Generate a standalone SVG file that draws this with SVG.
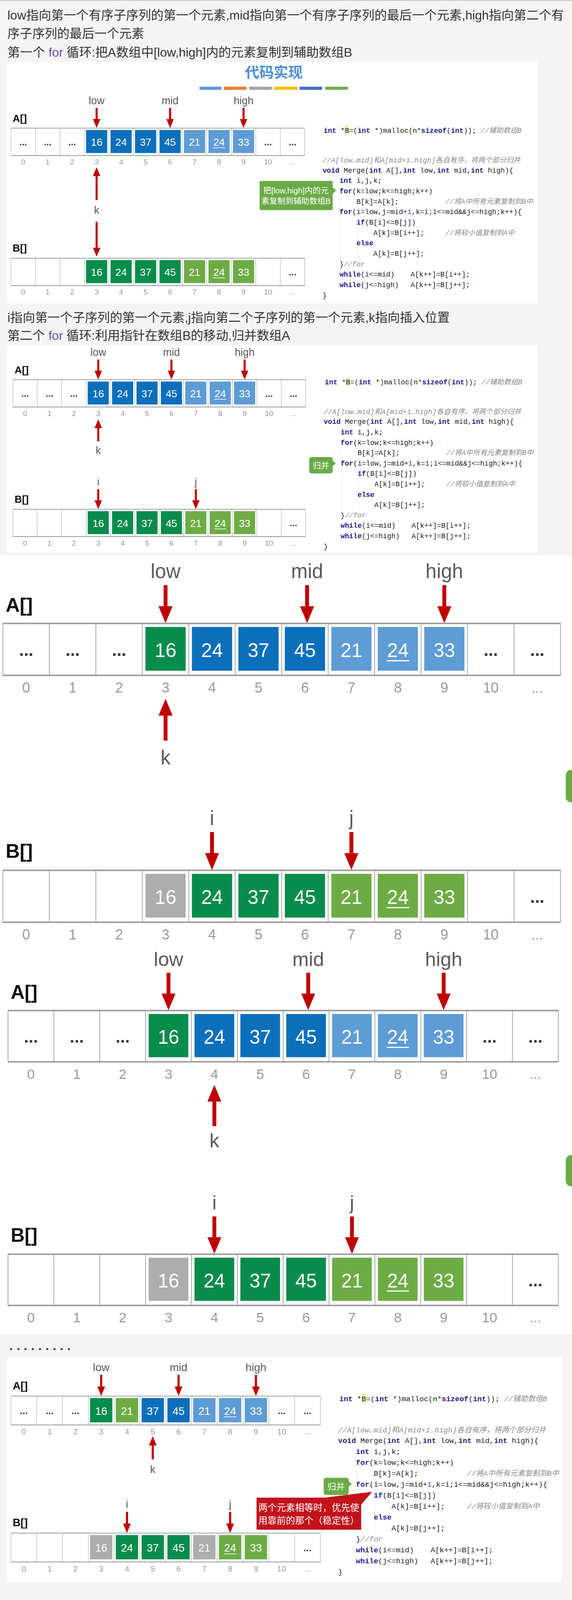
<svg xmlns="http://www.w3.org/2000/svg" xmlns:xlink="http://www.w3.org/1999/xlink" width="1465" height="5367" viewBox="0 0 1465 5367">
<defs>
<style>
.pg{fill:#f4f4f4}
.pn{fill:#ffffff}
.hd{font-family:"Liberation Sans","Noto Sans CJK SC",sans-serif;font-size:32px;fill:#333333}
.pur{fill:#6b4fbb}
.lbl{font-family:"Liberation Sans",Arial,sans-serif;font-size:51px;fill:#5a5a5a;text-anchor:middle}
.num{font-family:"Liberation Sans",Arial,sans-serif;font-size:50px;fill:#ffffff;text-anchor:middle}
.idx{font-family:"Liberation Sans",Arial,sans-serif;font-size:36px;fill:#9a9a9a;text-anchor:middle}
.dot{font-family:"Liberation Sans",Arial,sans-serif;font-size:44px;font-weight:bold;fill:#333333;text-anchor:middle}
.arr{font-family:"Liberation Sans",Arial,sans-serif;font-size:50px;font-weight:bold;fill:#111111}
.bdk{fill:#0b6fbc}.blt{fill:#5e9cd6}.gdk{fill:#088c4c}.glt{fill:#6dac45}.gry{fill:#adadad}
.ul{fill:#ffffff}
.red{fill:#c00000}
.code{font-family:"Liberation Mono","DejaVu Sans Mono","Noto Sans CJK SC",monospace;font-size:19px;fill:#222222}
.kw{fill:#1c1c8a;font-weight:bold}
.cm{fill:#8c8c8c;font-style:italic}
.nm{fill:#1d3fe0}
.gn{fill:#1e7b1e;font-weight:bold}
.guide{stroke:#e4e4e4;stroke-width:1.2;fill:none}
.cg{fill:#6aab46}
.cr{fill:#c3121b}
.ct{font-family:"Liberation Sans","Noto Sans CJK SC",sans-serif;fill:#ffffff;text-anchor:middle}
</style>
<g id="grid">
<rect x="0" y="0" width="1428" height="133" fill="#ffffff" stroke="#8c8c8c" stroke-width="1.5"/>
<path d="M119,0V133M238,0V133M357,0V133M476,0V133M595,0V133M714,0V133M833,0V133M952,0V133M1071,0V133M1190,0V133M1309,0V133" stroke="#8c8c8c" stroke-width="1.5"/>
<path d="M0,0H1428M0,133H1428" stroke="#a0a0a0" stroke-width="4"/>
</g>
<path id="adn" class="red" d="M0,0 L-18,-43 H-5 V-97 H5 V-43 H18 Z"/>
<path id="aup" class="red" d="M0,0 L18,43 H5 V107 H-5 V43 H-18 Z"/>
</defs>

<rect class="pg" x="0" y="0" width="1465" height="5367"/>
<rect x="0" y="0" width="1465" height="2" fill="#c4c4c4"/>

<g id="headings">
<text class="hd" x="19" y="50" textLength="1425" lengthAdjust="spacingAndGlyphs">low指向第一个有序子序列的第一个元素,mid指向第一个有序子序列的最后一个元素,high指向第二个有</text>
<text class="hd" x="19" y="97" textLength="350" lengthAdjust="spacingAndGlyphs">序子序列的最后一个元素</text>
<text class="hd" x="19" y="145" textLength="883" lengthAdjust="spacingAndGlyphs">第一个 <tspan class="pur">for</tspan> 循环:把A数组中[low,high]内的元素复制到辅助数组B</text>
<text class="hd" x="19" y="824" textLength="1133" lengthAdjust="spacingAndGlyphs">i指向第一个子序列的第一个元素,j指向第二个子序列的第一个元素,k指向插入位置</text>
<text class="hd" x="19" y="870" textLength="724" lengthAdjust="spacingAndGlyphs">第二个 <tspan class="pur">for</tspan> 循环:利用指针在数组B的移动,归并数组A</text>
<text class="hd" x="24" y="3456" style="font-weight:bold" textLength="157">.........</text>
<text class="hd" x="24" y="4131" style="font-weight:bold" textLength="157">.........</text>
<text class="hd" x="21" y="4209" style="font-size:52px" textLength="1105" lengthAdjust="spacingAndGlyphs">其中一个子序列走完，将另一个子序列直接复制</text>
</g>

<g id="panels">
<rect class="pn" x="19" y="158" width="1357" height="619"/>
<rect class="pn" x="19" y="884" width="1357" height="530"/>
<rect class="pn" x="0" y="1422" width="1465" height="1994"/>
<rect class="pn" x="19" y="3475" width="1420" height="576"/>
<rect class="pn" x="19" y="4231" width="1420" height="549"/>
<rect class="pn" x="19" y="4798" width="1420" height="565"/>
<rect x="1449" y="1971" width="40" height="83" rx="14" fill="#6aab46"/>
<rect x="1449" y="2957" width="40" height="80" rx="14" fill="#6aab46"/>
</g>

<g id="title">
<text x="701" y="199" text-anchor="middle" style="font-family:'Noto Sans CJK SC',sans-serif;font-size:37px;font-weight:bold;fill:#4a8fd6">代码实现</text>
<rect x="511" y="222" width="56" height="8" fill="#5b9bd5"/>
<rect x="573" y="222" width="58" height="8" fill="#ed7d31"/>
<rect x="638" y="222" width="58" height="8" fill="#a5a5a5"/>
<rect x="702" y="222" width="60" height="8" fill="#ffc000"/>
<rect x="767" y="222" width="58" height="8" fill="#4472c4"/>
<rect x="833" y="222" width="58" height="8" fill="#70ad47"/>
</g>

<!-- SECTION 1 -->
<g id="sec1" transform="translate(28,328) scale(0.527)">
<use href="#grid"/><use href="#grid" y="632"/>
<rect class="bdk" x="365" y="9" width="103" height="112"/><rect class="bdk" x="484" y="9" width="103" height="112"/><rect class="bdk" x="603" y="9" width="103" height="112"/><rect class="bdk" x="722" y="9" width="103" height="112"/><rect class="blt" x="841" y="9" width="103" height="112"/><rect class="blt" x="960" y="9" width="103" height="112"/><rect class="blt" x="1079" y="9" width="103" height="112"/>
<rect class="gdk" x="365" y="641" width="103" height="112"/><rect class="gdk" x="484" y="641" width="103" height="112"/><rect class="gdk" x="603" y="641" width="103" height="112"/><rect class="gdk" x="722" y="641" width="103" height="112"/><rect class="glt" x="841" y="641" width="103" height="112"/><rect class="glt" x="960" y="641" width="103" height="112"/><rect class="glt" x="1079" y="641" width="103" height="112"/>
<text class="num" y="86"><tspan x="416.5">16</tspan><tspan x="535.5">24</tspan><tspan x="654.5">37</tspan><tspan x="773.5">45</tspan><tspan x="892.5">21</tspan><tspan x="1011.5">24</tspan><tspan x="1130.5">33</tspan></text>
<rect class="ul" x="982.5" y="94" width="58" height="3"/>
<text class="num" y="718"><tspan x="416.5">16</tspan><tspan x="535.5">24</tspan><tspan x="654.5">37</tspan><tspan x="773.5">45</tspan><tspan x="892.5">21</tspan><tspan x="1011.5">24</tspan><tspan x="1130.5">33</tspan></text>
<rect class="ul" x="982.5" y="726" width="58" height="3"/>
<text class="dot" y="83"><tspan x="59.5">...</tspan><tspan x="178.5">...</tspan><tspan x="297.5">...</tspan><tspan x="1249.5">...</tspan><tspan x="1368.5">...</tspan></text>
<text class="dot" y="715"><tspan x="1368.5">...</tspan></text>
<text class="idx" y="177"><tspan x="59.5">0</tspan><tspan x="178.5">1</tspan><tspan x="297.5">2</tspan><tspan x="416.5">3</tspan><tspan x="535.5">4</tspan><tspan x="654.5">5</tspan><tspan x="773.5">6</tspan><tspan x="892.5">7</tspan><tspan x="1011.5">8</tspan><tspan x="1130.5">9</tspan><tspan x="1249.5">10</tspan><tspan x="1368.5">...</tspan></text>
<text class="idx" y="809"><tspan x="59.5">0</tspan><tspan x="178.5">1</tspan><tspan x="297.5">2</tspan><tspan x="416.5">3</tspan><tspan x="535.5">4</tspan><tspan x="654.5">5</tspan><tspan x="773.5">6</tspan><tspan x="892.5">7</tspan><tspan x="1011.5">8</tspan><tspan x="1130.5">9</tspan><tspan x="1249.5">10</tspan><tspan x="1368.5">...</tspan></text>
<text class="arr" x="8" y="-30">A[]</text>
<text class="arr" x="8" y="600">B[]</text>
<text class="lbl" y="-116"><tspan x="416.5">low</tspan><tspan x="773.5">mid</tspan><tspan x="1130.5">high</tspan></text>
<text class="lbl" x="416.5" y="415">k</text>
<g id="sec1-arrows">
<use href="#adn" x="416.5" y="-1"/><use href="#adn" x="773.5" y="-1"/><use href="#adn" x="1130.5" y="-1"/>
<path class="red" transform="translate(416.5,190)" d="M0,0 L18,43 H5 V159 H-5 V43 H-18 Z"/>
<path class="red" transform="translate(416.5,624)" d="M0,0 L-18,-43 H-5 V-169 H5 V-43 H18 Z"/>
</g>
</g>

<!-- SECTION 2 -->
<g id="sec2" transform="translate(33,972) scale(0.525)">
<use href="#grid"/><use href="#grid" y="632"/>
<rect class="bdk" x="365" y="9" width="103" height="112"/><rect class="bdk" x="484" y="9" width="103" height="112"/><rect class="bdk" x="603" y="9" width="103" height="112"/><rect class="bdk" x="722" y="9" width="103" height="112"/><rect class="blt" x="841" y="9" width="103" height="112"/><rect class="blt" x="960" y="9" width="103" height="112"/><rect class="blt" x="1079" y="9" width="103" height="112"/>
<rect class="gdk" x="365" y="641" width="103" height="112"/><rect class="gdk" x="484" y="641" width="103" height="112"/><rect class="gdk" x="603" y="641" width="103" height="112"/><rect class="gdk" x="722" y="641" width="103" height="112"/><rect class="glt" x="841" y="641" width="103" height="112"/><rect class="glt" x="960" y="641" width="103" height="112"/><rect class="glt" x="1079" y="641" width="103" height="112"/>
<text class="num" y="86"><tspan x="416.5">16</tspan><tspan x="535.5">24</tspan><tspan x="654.5">37</tspan><tspan x="773.5">45</tspan><tspan x="892.5">21</tspan><tspan x="1011.5">24</tspan><tspan x="1130.5">33</tspan></text>
<rect class="ul" x="982.5" y="94" width="58" height="3"/>
<text class="num" y="718"><tspan x="416.5">16</tspan><tspan x="535.5">24</tspan><tspan x="654.5">37</tspan><tspan x="773.5">45</tspan><tspan x="892.5">21</tspan><tspan x="1011.5">24</tspan><tspan x="1130.5">33</tspan></text>
<rect class="ul" x="982.5" y="726" width="58" height="3"/>
<text class="dot" y="83"><tspan x="59.5">...</tspan><tspan x="178.5">...</tspan><tspan x="297.5">...</tspan><tspan x="1249.5">...</tspan><tspan x="1368.5">...</tspan></text>
<text class="dot" y="715"><tspan x="1368.5">...</tspan></text>
<text class="idx" y="177"><tspan x="59.5">0</tspan><tspan x="178.5">1</tspan><tspan x="297.5">2</tspan><tspan x="416.5">3</tspan><tspan x="535.5">4</tspan><tspan x="654.5">5</tspan><tspan x="773.5">6</tspan><tspan x="892.5">7</tspan><tspan x="1011.5">8</tspan><tspan x="1130.5">9</tspan><tspan x="1249.5">10</tspan><tspan x="1368.5">...</tspan></text>
<text class="idx" y="809"><tspan x="59.5">0</tspan><tspan x="178.5">1</tspan><tspan x="297.5">2</tspan><tspan x="416.5">3</tspan><tspan x="535.5">4</tspan><tspan x="654.5">5</tspan><tspan x="773.5">6</tspan><tspan x="892.5">7</tspan><tspan x="1011.5">8</tspan><tspan x="1130.5">9</tspan><tspan x="1249.5">10</tspan><tspan x="1368.5">...</tspan></text>
<text class="arr" x="8" y="-30">A[]</text>
<text class="arr" x="8" y="600">B[]</text>
<text class="lbl" y="-116"><tspan x="416.5">low</tspan><tspan x="773.5">mid</tspan><tspan x="1130.5">high</tspan></text>
<text class="lbl" x="416.5" y="361">k</text>
<text class="lbl" y="516"><tspan x="416.5">i</tspan><tspan x="892.5">j</tspan></text>
<g id="sec2-arrows">
<use href="#adn" x="416.5" y="-1"/><use href="#adn" x="773.5" y="-1"/><use href="#adn" x="1130.5" y="-1"/>
<use href="#aup" x="416.5" y="193"/>
<use href="#adn" x="416.5" y="631"/><use href="#adn" x="892.5" y="631"/>
</g>
</g>

<!-- SECTION 3 big -->
<g id="sec3" transform="translate(7.5,1596)">
<use href="#grid"/><use href="#grid" y="632"/>
<rect class="gdk" x="365" y="9" width="103" height="112"/><rect class="bdk" x="484" y="9" width="103" height="112"/><rect class="bdk" x="603" y="9" width="103" height="112"/><rect class="bdk" x="722" y="9" width="103" height="112"/><rect class="blt" x="841" y="9" width="103" height="112"/><rect class="blt" x="960" y="9" width="103" height="112"/><rect class="blt" x="1079" y="9" width="103" height="112"/>
<rect class="gry" x="365" y="641" width="103" height="112"/><rect class="gdk" x="484" y="641" width="103" height="112"/><rect class="gdk" x="603" y="641" width="103" height="112"/><rect class="gdk" x="722" y="641" width="103" height="112"/><rect class="glt" x="841" y="641" width="103" height="112"/><rect class="glt" x="960" y="641" width="103" height="112"/><rect class="glt" x="1079" y="641" width="103" height="112"/>
<text class="num" y="86"><tspan x="416.5">16</tspan><tspan x="535.5">24</tspan><tspan x="654.5">37</tspan><tspan x="773.5">45</tspan><tspan x="892.5">21</tspan><tspan x="1011.5">24</tspan><tspan x="1130.5">33</tspan></text>
<rect class="ul" x="982.5" y="94" width="58" height="3"/>
<text class="num" y="718"><tspan x="416.5">16</tspan><tspan x="535.5">24</tspan><tspan x="654.5">37</tspan><tspan x="773.5">45</tspan><tspan x="892.5">21</tspan><tspan x="1011.5">24</tspan><tspan x="1130.5">33</tspan></text>
<rect class="ul" x="982.5" y="726" width="58" height="3"/>
<text class="dot" y="83"><tspan x="59.5">...</tspan><tspan x="178.5">...</tspan><tspan x="297.5">...</tspan><tspan x="1249.5">...</tspan><tspan x="1368.5">...</tspan></text>
<text class="dot" y="715"><tspan x="1368.5">...</tspan></text>
<text class="idx" y="177"><tspan x="59.5">0</tspan><tspan x="178.5">1</tspan><tspan x="297.5">2</tspan><tspan x="416.5">3</tspan><tspan x="535.5">4</tspan><tspan x="654.5">5</tspan><tspan x="773.5">6</tspan><tspan x="892.5">7</tspan><tspan x="1011.5">8</tspan><tspan x="1130.5">9</tspan><tspan x="1249.5">10</tspan><tspan x="1368.5">...</tspan></text>
<text class="idx" y="809"><tspan x="59.5">0</tspan><tspan x="178.5">1</tspan><tspan x="297.5">2</tspan><tspan x="416.5">3</tspan><tspan x="535.5">4</tspan><tspan x="654.5">5</tspan><tspan x="773.5">6</tspan><tspan x="892.5">7</tspan><tspan x="1011.5">8</tspan><tspan x="1130.5">9</tspan><tspan x="1249.5">10</tspan><tspan x="1368.5">...</tspan></text>
<text class="arr" x="7" y="-30">A[]</text>
<text class="arr" x="7" y="600">B[]</text>
<text class="lbl" y="-116"><tspan x="416.5">low</tspan><tspan x="779">mid</tspan><tspan x="1130.5">high</tspan></text>
<text class="lbl" x="416.5" y="361">k</text>
<text class="lbl" y="516"><tspan x="535.5">i</tspan><tspan x="892.5">j</tspan></text>
<g id="sec3-arrows">
<use href="#adn" x="416.5" y="-1"/><use href="#adn" x="779" y="-1"/><use href="#adn" x="1130.5" y="-1"/>
<use href="#aup" x="416.5" y="193"/>
<use href="#adn" x="535.5" y="631"/><use href="#adn" x="892.5" y="631"/>
</g>
</g>

<!-- SECTION 4 big -->
<g id="sec4" transform="translate(20.5,2587) scale(0.987)">
<use href="#grid"/><use href="#grid" y="632"/>
<rect class="gdk" x="365" y="9" width="103" height="112"/><rect class="bdk" x="484" y="9" width="103" height="112"/><rect class="bdk" x="603" y="9" width="103" height="112"/><rect class="bdk" x="722" y="9" width="103" height="112"/><rect class="blt" x="841" y="9" width="103" height="112"/><rect class="blt" x="960" y="9" width="103" height="112"/><rect class="blt" x="1079" y="9" width="103" height="112"/>
<rect class="gry" x="365" y="641" width="103" height="112"/><rect class="gdk" x="484" y="641" width="103" height="112"/><rect class="gdk" x="603" y="641" width="103" height="112"/><rect class="gdk" x="722" y="641" width="103" height="112"/><rect class="glt" x="841" y="641" width="103" height="112"/><rect class="glt" x="960" y="641" width="103" height="112"/><rect class="glt" x="1079" y="641" width="103" height="112"/>
<text class="num" y="86"><tspan x="416.5">16</tspan><tspan x="535.5">24</tspan><tspan x="654.5">37</tspan><tspan x="773.5">45</tspan><tspan x="892.5">21</tspan><tspan x="1011.5">24</tspan><tspan x="1130.5">33</tspan></text>
<rect class="ul" x="982.5" y="94" width="58" height="3"/>
<text class="num" y="718"><tspan x="416.5">16</tspan><tspan x="535.5">24</tspan><tspan x="654.5">37</tspan><tspan x="773.5">45</tspan><tspan x="892.5">21</tspan><tspan x="1011.5">24</tspan><tspan x="1130.5">33</tspan></text>
<rect class="ul" x="982.5" y="726" width="58" height="3"/>
<text class="dot" y="83"><tspan x="59.5">...</tspan><tspan x="178.5">...</tspan><tspan x="297.5">...</tspan><tspan x="1249.5">...</tspan><tspan x="1368.5">...</tspan></text>
<text class="dot" y="715"><tspan x="1368.5">...</tspan></text>
<text class="idx" y="177"><tspan x="59.5">0</tspan><tspan x="178.5">1</tspan><tspan x="297.5">2</tspan><tspan x="416.5">3</tspan><tspan x="535.5">4</tspan><tspan x="654.5">5</tspan><tspan x="773.5">6</tspan><tspan x="892.5">7</tspan><tspan x="1011.5">8</tspan><tspan x="1130.5">9</tspan><tspan x="1249.5">10</tspan><tspan x="1368.5">...</tspan></text>
<text class="idx" y="809"><tspan x="59.5">0</tspan><tspan x="178.5">1</tspan><tspan x="297.5">2</tspan><tspan x="416.5">3</tspan><tspan x="535.5">4</tspan><tspan x="654.5">5</tspan><tspan x="773.5">6</tspan><tspan x="892.5">7</tspan><tspan x="1011.5">8</tspan><tspan x="1130.5">9</tspan><tspan x="1249.5">10</tspan><tspan x="1368.5">...</tspan></text>
<text class="arr" x="7" y="-30">A[]</text>
<text class="arr" x="7" y="600">B[]</text>
<text class="lbl" y="-116"><tspan x="416.5">low</tspan><tspan x="779">mid</tspan><tspan x="1130.5">high</tspan></text>
<text class="lbl" x="535.5" y="355">k</text>
<text class="lbl" y="516"><tspan x="535.5">i</tspan><tspan x="892.5">j</tspan></text>
<g id="sec4-arrows">
<use href="#adn" x="416.5" y="-1"/><use href="#adn" x="779" y="-1"/><use href="#adn" x="1130.5" y="-1"/>
<use href="#aup" x="535.5" y="193"/>
<use href="#adn" x="535.5" y="631"/><use href="#adn" x="892.5" y="631"/>
</g>
</g>

<!-- SECTION 5 (panel 3) -->
<g id="sec5" transform="translate(28,3574) scale(0.555)">
<use href="#grid"/><use href="#grid" y="632"/>
<rect class="gdk" x="365" y="9" width="103" height="112"/><rect class="glt" x="484" y="9" width="103" height="112"/><rect class="bdk" x="603" y="9" width="103" height="112"/><rect class="bdk" x="722" y="9" width="103" height="112"/><rect class="blt" x="841" y="9" width="103" height="112"/><rect class="blt" x="960" y="9" width="103" height="112"/><rect class="blt" x="1079" y="9" width="103" height="112"/>
<rect class="gry" x="365" y="641" width="103" height="112"/><rect class="gdk" x="484" y="641" width="103" height="112"/><rect class="gdk" x="603" y="641" width="103" height="112"/><rect class="gdk" x="722" y="641" width="103" height="112"/><rect class="gry" x="841" y="641" width="103" height="112"/><rect class="glt" x="960" y="641" width="103" height="112"/><rect class="glt" x="1079" y="641" width="103" height="112"/>
<text class="num" y="86"><tspan x="416.5">16</tspan><tspan x="535.5">21</tspan><tspan x="654.5">37</tspan><tspan x="773.5">45</tspan><tspan x="892.5">21</tspan><tspan x="1011.5">24</tspan><tspan x="1130.5">33</tspan></text>
<rect class="ul" x="982.5" y="94" width="58" height="3"/>
<text class="num" y="718"><tspan x="416.5">16</tspan><tspan x="535.5">24</tspan><tspan x="654.5">37</tspan><tspan x="773.5">45</tspan><tspan x="892.5">21</tspan><tspan x="1011.5">24</tspan><tspan x="1130.5">33</tspan></text>
<rect class="ul" x="982.5" y="726" width="58" height="3"/>
<text class="dot" y="83"><tspan x="59.5">...</tspan><tspan x="178.5">...</tspan><tspan x="297.5">...</tspan><tspan x="1249.5">...</tspan><tspan x="1368.5">...</tspan></text>
<text class="dot" y="715"><tspan x="1368.5">...</tspan></text>
<text class="idx" y="177"><tspan x="59.5">0</tspan><tspan x="178.5">1</tspan><tspan x="297.5">2</tspan><tspan x="416.5">3</tspan><tspan x="535.5">4</tspan><tspan x="654.5">5</tspan><tspan x="773.5">6</tspan><tspan x="892.5">7</tspan><tspan x="1011.5">8</tspan><tspan x="1130.5">9</tspan><tspan x="1249.5">10</tspan><tspan x="1368.5">...</tspan></text>
<text class="idx" y="809"><tspan x="59.5">0</tspan><tspan x="178.5">1</tspan><tspan x="297.5">2</tspan><tspan x="416.5">3</tspan><tspan x="535.5">4</tspan><tspan x="654.5">5</tspan><tspan x="773.5">6</tspan><tspan x="892.5">7</tspan><tspan x="1011.5">8</tspan><tspan x="1130.5">9</tspan><tspan x="1249.5">10</tspan><tspan x="1368.5">...</tspan></text>
<text class="arr" x="8" y="-30">A[]</text>
<text class="arr" x="8" y="600">B[]</text>
<text class="lbl" y="-116"><tspan x="416.5">low</tspan><tspan x="773.5">mid</tspan><tspan x="1130.5">high</tspan></text>
<text class="lbl" x="654.5" y="355">k</text>
<text class="lbl" y="516"><tspan x="535.5">i</tspan><tspan x="1011.5">j</tspan></text>
<g id="sec5-arrows">
<use href="#adn" x="416.5" y="-1"/><use href="#adn" x="773.5" y="-1"/><use href="#adn" x="1130.5" y="-1"/>
<use href="#aup" x="654.5" y="185"/>
<use href="#adn" x="535.5" y="631"/><use href="#adn" x="1011.5" y="631"/>
</g>
</g>

<!-- SECTION 6 (panel 4) -->
<g id="sec6" transform="translate(35,4324) scale(0.545)">
<use href="#grid"/><use href="#grid" y="632"/>
<rect class="gdk" x="365" y="9" width="103" height="112"/><rect class="glt" x="484" y="9" width="103" height="112"/><rect class="gdk" x="603" y="9" width="103" height="112"/><rect class="glt" x="722" y="9" width="103" height="112"/><rect class="glt" x="841" y="9" width="103" height="112"/><rect class="blt" x="960" y="9" width="103" height="112"/><rect class="blt" x="1079" y="9" width="103" height="112"/>
<rect class="gry" x="365" y="641" width="103" height="112"/><rect class="gry" x="484" y="641" width="103" height="112"/><rect class="gdk" x="603" y="641" width="103" height="112"/><rect class="gdk" x="722" y="641" width="103" height="112"/><rect class="gry" x="841" y="641" width="103" height="112"/><rect class="gry" x="960" y="641" width="103" height="112"/><rect class="gry" x="1079" y="641" width="103" height="112"/>
<text class="num" y="86"><tspan x="416.5">16</tspan><tspan x="535.5">21</tspan><tspan x="654.5">24</tspan><tspan x="773.5">24</tspan><tspan x="892.5">33</tspan><tspan x="1011.5">24</tspan><tspan x="1130.5">33</tspan></text>
<rect class="ul" x="744.5" y="94" width="58" height="3"/>
<rect class="ul" x="982.5" y="94" width="58" height="3"/>
<text class="num" y="718"><tspan x="416.5">16</tspan><tspan x="535.5">24</tspan><tspan x="654.5">37</tspan><tspan x="773.5">45</tspan><tspan x="892.5">21</tspan><tspan x="1011.5">24</tspan><tspan x="1130.5">33</tspan></text>
<text class="dot" y="83"><tspan x="59.5">...</tspan><tspan x="178.5">...</tspan><tspan x="297.5">...</tspan><tspan x="1249.5">...</tspan><tspan x="1368.5">...</tspan></text>
<text class="dot" y="715"><tspan x="1368.5">...</tspan></text>
<text class="idx" y="177"><tspan x="59.5">0</tspan><tspan x="178.5">1</tspan><tspan x="297.5">2</tspan><tspan x="416.5">3</tspan><tspan x="535.5">4</tspan><tspan x="654.5">5</tspan><tspan x="773.5">6</tspan><tspan x="892.5">7</tspan><tspan x="1011.5">8</tspan><tspan x="1130.5">9</tspan><tspan x="1249.5">10</tspan><tspan x="1368.5">...</tspan></text>
<text class="idx" y="809"><tspan x="59.5">0</tspan><tspan x="178.5">1</tspan><tspan x="297.5">2</tspan><tspan x="416.5">3</tspan><tspan x="535.5">4</tspan><tspan x="654.5">5</tspan><tspan x="773.5">6</tspan><tspan x="892.5">7</tspan><tspan x="1011.5">8</tspan><tspan x="1130.5">9</tspan><tspan x="1249.5">10</tspan><tspan x="1368.5">...</tspan></text>
<text class="arr" x="8" y="-30">A[]</text>
<text class="arr" x="8" y="600">B[]</text>
<text class="lbl" y="-116"><tspan x="416.5">low</tspan><tspan x="773.5">mid</tspan><tspan x="1130.5">high</tspan></text>
<text class="lbl" x="1011.5" y="345">k</text>
<text class="lbl" y="516"><tspan x="654.5">i</tspan><tspan x="1249.5">j</tspan></text>
<g id="sec6-arrows">
<use href="#adn" x="416.5" y="-1"/><use href="#adn" x="773.5" y="-1"/><use href="#adn" x="1130.5" y="-1"/>
<use href="#aup" x="1011.5" y="180"/>
<use href="#adn" x="654.5" y="631"/><use href="#adn" x="1249.5" y="631"/>
</g>
</g>

<!-- SECTION 7 (panel 5) -->
<g id="sec7" transform="translate(28,4893) scale(0.554)">
<use href="#grid"/><use href="#grid" y="632"/>
<rect class="gdk" x="365" y="9" width="103" height="112"/><rect class="glt" x="484" y="9" width="103" height="112"/><rect class="gdk" x="603" y="9" width="103" height="112"/><rect class="glt" x="722" y="9" width="103" height="112"/><rect class="glt" x="841" y="9" width="103" height="112"/><rect class="gdk" x="960" y="9" width="103" height="112"/><rect class="gdk" x="1079" y="9" width="103" height="112"/>
<rect class="gry" x="365" y="641" width="103" height="112"/><rect class="gry" x="484" y="641" width="103" height="112"/><rect class="gry" x="603" y="641" width="103" height="112"/><rect class="gry" x="722" y="641" width="103" height="112"/><rect class="gry" x="841" y="641" width="103" height="112"/><rect class="gry" x="960" y="641" width="103" height="112"/><rect class="gry" x="1079" y="641" width="103" height="112"/>
<text class="num" y="86"><tspan x="416.5">16</tspan><tspan x="535.5">21</tspan><tspan x="654.5">24</tspan><tspan x="773.5">24</tspan><tspan x="892.5">33</tspan><tspan x="1011.5">37</tspan><tspan x="1130.5">45</tspan></text>
<rect class="ul" x="744.5" y="94" width="58" height="3"/>
<text class="num" y="718"><tspan x="416.5">16</tspan><tspan x="535.5">24</tspan><tspan x="654.5">37</tspan><tspan x="773.5">45</tspan><tspan x="892.5">21</tspan><tspan x="1011.5">24</tspan><tspan x="1130.5">33</tspan></text>
<text class="dot" y="83"><tspan x="59.5">...</tspan><tspan x="178.5">...</tspan><tspan x="297.5">...</tspan><tspan x="1249.5">...</tspan><tspan x="1368.5">...</tspan></text>
<text class="dot" y="715"><tspan x="1368.5">...</tspan></text>
<text class="idx" y="177"><tspan x="59.5">0</tspan><tspan x="178.5">1</tspan><tspan x="297.5">2</tspan><tspan x="416.5">3</tspan><tspan x="535.5">4</tspan><tspan x="654.5">5</tspan><tspan x="773.5">6</tspan><tspan x="892.5">7</tspan><tspan x="1011.5">8</tspan><tspan x="1130.5">9</tspan><tspan x="1249.5">10</tspan><tspan x="1368.5">...</tspan></text>
<text class="idx" y="809"><tspan x="59.5">0</tspan><tspan x="178.5">1</tspan><tspan x="297.5">2</tspan><tspan x="416.5">3</tspan><tspan x="535.5">4</tspan><tspan x="654.5">5</tspan><tspan x="773.5">6</tspan><tspan x="892.5">7</tspan><tspan x="1011.5">8</tspan><tspan x="1130.5">9</tspan><tspan x="1249.5">10</tspan><tspan x="1368.5">...</tspan></text>
<text class="arr" x="8" y="-30">A[]</text>
<text class="arr" x="8" y="600">B[]</text>
<text class="lbl" y="-116"><tspan x="416.5">low</tspan><tspan x="773.5">mid</tspan><tspan x="1130.5">high</tspan></text>
<text class="lbl" x="1249.5" y="342">k</text>
<text class="lbl" y="516"><tspan x="892.5">i</tspan><tspan x="1249.5">j</tspan></text>
<g id="sec7-arrows">
<use href="#adn" x="416.5" y="-1"/><use href="#adn" x="773.5" y="-1"/><use href="#adn" x="1130.5" y="-1"/>
<use href="#aup" x="1249.5" y="180"/>
<use href="#adn" x="892.5" y="631"/><use href="#adn" x="1249.5" y="631"/>
</g>
</g>

<!-- CODE BLOCKS -->
<g id="code1" transform="translate(826,333) scale(0.953)">
<rect x="60" y="-12" width="12" height="24" fill="#fbe9a8"/>
<path class="guide" d="M48,185V352M94,252V345"/>
<text class="code" x="3" y="7"><tspan class="kw">int</tspan> *B=(<tspan class="kw">int</tspan> *)malloc(<tspan class="gn">n</tspan>*<tspan class="kw">sizeof</tspan>(<tspan class="kw">int</tspan>)); <tspan class="cm">//辅助数组B</tspan></text>
<text class="code cm" x="0" y="87">//A[low…mid]和A[mid+1…high]各自有序，将两个部分归并</text>
<text class="code" x="0" y="114"><tspan class="kw">void</tspan> Merge(<tspan class="kw">int</tspan> A[],<tspan class="kw">int</tspan> low,<tspan class="kw">int</tspan> mid,<tspan class="kw">int</tspan> high){</text>
<text class="code" x="45.6" y="142"><tspan class="kw">int</tspan> i,j,k;</text>
<text class="code" x="45.6" y="170"><tspan class="kw">for</tspan>(k=low;k&lt;=high;k++)</text>
<text class="code" x="91.2" y="198">B[k]=A[k];<tspan class="cm" x="330">//将A中所有元素复制到B中</tspan></text>
<text class="code" x="45.6" y="226"><tspan class="kw">for</tspan>(i=low,j=mid+<tspan class="nm">1</tspan>,k=i;i&lt;=mid&amp;&amp;j&lt;=high;k++){</text>
<text class="code" x="91.2" y="254"><tspan class="kw">if</tspan>(B[i]&lt;=B[j])</text>
<text class="code" x="136.8" y="282">A[k]=B[i++];<tspan class="cm" x="330">//将较小值复制到A中</tspan></text>
<text class="code" x="91.2" y="310"><tspan class="kw">else</tspan></text>
<text class="code" x="136.8" y="338">A[k]=B[j++];</text>
<text class="code" x="45.6" y="366">}<tspan class="cm">//for</tspan></text>
<text class="code" x="45.6" y="394"><tspan class="kw">while</tspan>(i&lt;=mid)<tspan x="237">A[k++]=B[i++];</tspan></text>
<text class="code" x="45.6" y="422"><tspan class="kw">while</tspan>(j&lt;=high)<tspan x="237">A[k++]=B[j++];</tspan></text>
<text class="code" x="0" y="450">}</text>
</g>

<g id="code2" transform="translate(829,977) scale(0.95)">
<rect x="60" y="-12" width="12" height="24" fill="#fbe9a8"/>
<path class="guide" d="M48,185V352M94,252V345"/>
<text class="code" x="3" y="7"><tspan class="kw">int</tspan> *B=(<tspan class="kw">int</tspan> *)malloc(<tspan class="gn">n</tspan>*<tspan class="kw">sizeof</tspan>(<tspan class="kw">int</tspan>)); <tspan class="cm">//辅助数组B</tspan></text>
<text class="code cm" x="0" y="87">//A[low…mid]和A[mid+1…high]各自有序，将两个部分归并</text>
<text class="code" x="0" y="114"><tspan class="kw">void</tspan> Merge(<tspan class="kw">int</tspan> A[],<tspan class="kw">int</tspan> low,<tspan class="kw">int</tspan> mid,<tspan class="kw">int</tspan> high){</text>
<text class="code" x="45.6" y="142"><tspan class="kw">int</tspan> i,j,k;</text>
<text class="code" x="45.6" y="170"><tspan class="kw">for</tspan>(k=low;k&lt;=high;k++)</text>
<text class="code" x="91.2" y="198">B[k]=A[k];<tspan class="cm" x="330">//将A中所有元素复制到B中</tspan></text>
<text class="code" x="45.6" y="226"><tspan class="kw">for</tspan>(i=low,j=mid+<tspan class="nm">1</tspan>,k=i;i&lt;=mid&amp;&amp;j&lt;=high;k++){</text>
<text class="code" x="91.2" y="254"><tspan class="kw">if</tspan>(B[i]&lt;=B[j])</text>
<text class="code" x="136.8" y="282">A[k]=B[i++];<tspan class="cm" x="330">//将较小值复制到A中</tspan></text>
<text class="code" x="91.2" y="310"><tspan class="kw">else</tspan></text>
<text class="code" x="136.8" y="338">A[k]=B[j++];</text>
<text class="code" x="45.6" y="366">}<tspan class="cm">//for</tspan></text>
<text class="code" x="45.6" y="394"><tspan class="kw">while</tspan>(i&lt;=mid)<tspan x="237">A[k++]=B[i++];</tspan></text>
<text class="code" x="45.6" y="422"><tspan class="kw">while</tspan>(j&lt;=high)<tspan x="237">A[k++]=B[j++];</tspan></text>
<text class="code" x="0" y="450">}</text>
</g>

<g id="code3" transform="translate(866,3580)">
<rect x="60" y="-12" width="12" height="24" fill="#fbe9a8"/>
<path class="guide" d="M48,185V352M94,252V345"/>
<text class="code" x="3" y="7"><tspan class="kw">int</tspan> *B=(<tspan class="kw">int</tspan> *)malloc(<tspan class="gn">n</tspan>*<tspan class="kw">sizeof</tspan>(<tspan class="kw">int</tspan>)); <tspan class="cm">//辅助数组B</tspan></text>
<text class="code cm" x="0" y="87">//A[low…mid]和A[mid+1…high]各自有序，将两个部分归并</text>
<text class="code" x="0" y="114"><tspan class="kw">void</tspan> Merge(<tspan class="kw">int</tspan> A[],<tspan class="kw">int</tspan> low,<tspan class="kw">int</tspan> mid,<tspan class="kw">int</tspan> high){</text>
<text class="code" x="45.6" y="142"><tspan class="kw">int</tspan> i,j,k;</text>
<text class="code" x="45.6" y="170"><tspan class="kw">for</tspan>(k=low;k&lt;=high;k++)</text>
<text class="code" x="91.2" y="198">B[k]=A[k];<tspan class="cm" x="330">//将A中所有元素复制到B中</tspan></text>
<text class="code" x="45.6" y="226"><tspan class="kw">for</tspan>(i=low,j=mid+<tspan class="nm">1</tspan>,k=i;i&lt;=mid&amp;&amp;j&lt;=high;k++){</text>
<text class="code" x="91.2" y="254"><tspan class="kw">if</tspan>(B[i]&lt;=B[j])</text>
<text class="code" x="136.8" y="282">A[k]=B[i++];<tspan class="cm" x="330">//将较小值复制到A中</tspan></text>
<text class="code" x="91.2" y="310"><tspan class="kw">else</tspan></text>
<text class="code" x="136.8" y="338">A[k]=B[j++];</text>
<text class="code" x="45.6" y="366">}<tspan class="cm">//for</tspan></text>
<text class="code" x="45.6" y="394"><tspan class="kw">while</tspan>(i&lt;=mid)<tspan x="237">A[k++]=B[i++];</tspan></text>
<text class="code" x="45.6" y="422"><tspan class="kw">while</tspan>(j&lt;=high)<tspan x="237">A[k++]=B[j++];</tspan></text>
<text class="code" x="0" y="450">}</text>
</g>

<g id="code4" transform="translate(858,4330) scale(0.982)">
<rect x="60" y="-12" width="12" height="24" fill="#fbe9a8"/>
<path class="guide" d="M48,185V352M94,252V345"/>
<text class="code" x="3" y="7"><tspan class="kw">int</tspan> *B=(<tspan class="kw">int</tspan> *)malloc(<tspan class="gn">n</tspan>*<tspan class="kw">sizeof</tspan>(<tspan class="kw">int</tspan>)); <tspan class="cm">//辅助数组B</tspan></text>
<text class="code cm" x="0" y="87">//A[low…mid]和A[mid+1…high]各自有序，将两个部分归并</text>
<text class="code" x="0" y="114"><tspan class="kw">void</tspan> Merge(<tspan class="kw">int</tspan> A[],<tspan class="kw">int</tspan> low,<tspan class="kw">int</tspan> mid,<tspan class="kw">int</tspan> high){</text>
<text class="code" x="45.6" y="142"><tspan class="kw">int</tspan> i,j,k;</text>
<text class="code" x="45.6" y="170"><tspan class="kw">for</tspan>(k=low;k&lt;=high;k++)</text>
<text class="code" x="91.2" y="198">B[k]=A[k];<tspan class="cm" x="330">//将A中所有元素复制到B中</tspan></text>
<text class="code" x="45.6" y="226"><tspan class="kw">for</tspan>(i=low,j=mid+<tspan class="nm">1</tspan>,k=i;i&lt;=mid&amp;&amp;j&lt;=high;k++){</text>
<text class="code" x="91.2" y="254"><tspan class="kw">if</tspan>(B[i]&lt;=B[j])</text>
<text class="code" x="136.8" y="282">A[k]=B[i++];<tspan class="cm" x="330">//将较小值复制到A中</tspan></text>
<text class="code" x="91.2" y="310"><tspan class="kw">else</tspan></text>
<text class="code" x="136.8" y="338">A[k]=B[j++];</text>
<text class="code" x="45.6" y="366">}<tspan class="cm">//for</tspan></text>
<text class="code" x="45.6" y="394"><tspan class="kw">while</tspan>(i&lt;=mid)<tspan x="237">A[k++]=B[i++];</tspan></text>
<text class="code" x="45.6" y="422"><tspan class="kw">while</tspan>(j&lt;=high)<tspan x="237">A[k++]=B[j++];</tspan></text>
<text class="code" x="0" y="450">}</text>
</g>

<g id="code5" transform="translate(866,4897)">
<rect x="60" y="-12" width="12" height="24" fill="#fbe9a8"/>
<path class="guide" d="M48,185V352M94,252V345"/>
<text class="code" x="3" y="7"><tspan class="kw">int</tspan> *B=(<tspan class="kw">int</tspan> *)malloc(<tspan class="gn">n</tspan>*<tspan class="kw">sizeof</tspan>(<tspan class="kw">int</tspan>)); <tspan class="cm">//辅助数组B</tspan></text>
<text class="code cm" x="0" y="87">//A[low…mid]和A[mid+1…high]各自有序，将两个部分归并</text>
<text class="code" x="0" y="114"><tspan class="kw">void</tspan> Merge(<tspan class="kw">int</tspan> A[],<tspan class="kw">int</tspan> low,<tspan class="kw">int</tspan> mid,<tspan class="kw">int</tspan> high){</text>
<text class="code" x="45.6" y="142"><tspan class="kw">int</tspan> i,j,k;</text>
<text class="code" x="45.6" y="170"><tspan class="kw">for</tspan>(k=low;k&lt;=high;k++)</text>
<text class="code" x="91.2" y="198">B[k]=A[k];<tspan class="cm" x="330">//将A中所有元素复制到B中</tspan></text>
<text class="code" x="45.6" y="226"><tspan class="kw">for</tspan>(i=low,j=mid+<tspan class="nm">1</tspan>,k=i;i&lt;=mid&amp;&amp;j&lt;=high;k++){</text>
<text class="code" x="91.2" y="254"><tspan class="kw">if</tspan>(B[i]&lt;=B[j])</text>
<text class="code" x="136.8" y="282">A[k]=B[i++];<tspan class="cm" x="330">//将较小值复制到A中</tspan></text>
<text class="code" x="91.2" y="310"><tspan class="kw">else</tspan></text>
<text class="code" x="136.8" y="338">A[k]=B[j++];</text>
<text class="code" x="45.6" y="366">}<tspan class="cm">//for</tspan></text>
<text class="code" x="45.6" y="394"><tspan class="kw">while</tspan>(i&lt;=mid)<tspan x="237">A[k++]=B[i++];</tspan></text>
<text class="code" x="45.6" y="422"><tspan class="kw">while</tspan>(j&lt;=high)<tspan x="237">A[k++]=B[j++];</tspan></text>
<text class="code" x="0" y="450">}</text>
</g>

<!-- CALLOUTS -->
<g id="callout-copy">
<rect class="cg" x="665" y="463" width="187" height="75" rx="4"/>
<path class="cg" d="M851,479 L861,488 L851,497 Z"/>
<text class="ct" x="758" y="495" style="font-size:20.5px">把[low,high]内的元</text>
<text class="ct" x="758" y="522" style="font-size:20.5px">素复制到辅助数组B</text>
</g>
<g id="callout-merge2">
<rect class="cg" x="792" y="1170" width="60" height="42" rx="6"/>
<path class="cg" d="M851,1178 L860,1186 L851,1194 Z"/>
<text class="ct" x="822" y="1199" style="font-size:21px">归并</text>
</g>
<g id="callout-merge3">
<rect class="cg" x="829" y="3783" width="64" height="44" rx="6"/>
<path class="cg" d="M892,3791 L901,3799 L892,3807 Z"/>
<text class="ct" x="861" y="3813" style="font-size:22px">归并</text>
</g>
<g id="callout-stable">
<path class="cr" d="M830,3834 L953,3819 L925,3852 Z"/>
<rect class="cr" x="657" y="3834" width="268" height="82"/>
<text class="ct" x="791" y="3868" style="font-size:23.5px">两个元素相等时，优先使</text>
<text class="ct" x="791" y="3901" style="font-size:23.5px">用靠前的那个（稳定性）</text>
</g>
<g id="callout-merge4">
<rect class="cg" x="820" y="4530" width="63" height="43" rx="6"/>
<path class="cg" d="M882,4537 L891,4545 L882,4553 Z"/>
<text class="ct" x="851" y="4559" style="font-size:22px">归并</text>
</g>
<g id="callout-tail">
<rect class="cr" x="1266" y="4643" width="171" height="80" rx="3"/>
<path class="cr" d="M1267,4698 L1250,4712 L1267,4724 Z"/>
<text class="ct" x="1351" y="4675" style="font-size:23.5px">没有归并完的部</text>
<text class="ct" x="1351" y="4710" style="font-size:23.5px">分复制到尾部</text>
</g>
<g id="callout-merge5">
<rect class="cg" x="825" y="5100" width="65" height="45" rx="6"/>
<path class="cg" d="M889,5109 L898,5117 L889,5125 Z"/>
<text class="ct" x="857" y="5131" style="font-size:22px">归并</text>
</g>
<g id="callout-sorted">
<path class="cg" d="M248,5019 L260,5001 L272,5019 Z"/>
<rect class="cg" x="215" y="5018" width="257" height="81" rx="3"/>
<text class="ct" x="343" y="5054" style="font-size:24.5px">经过 Merge 处理,</text>
<text class="ct" x="343" y="5087" style="font-size:24.5px">A[low~high]整体有序</text>
</g>
</svg>
